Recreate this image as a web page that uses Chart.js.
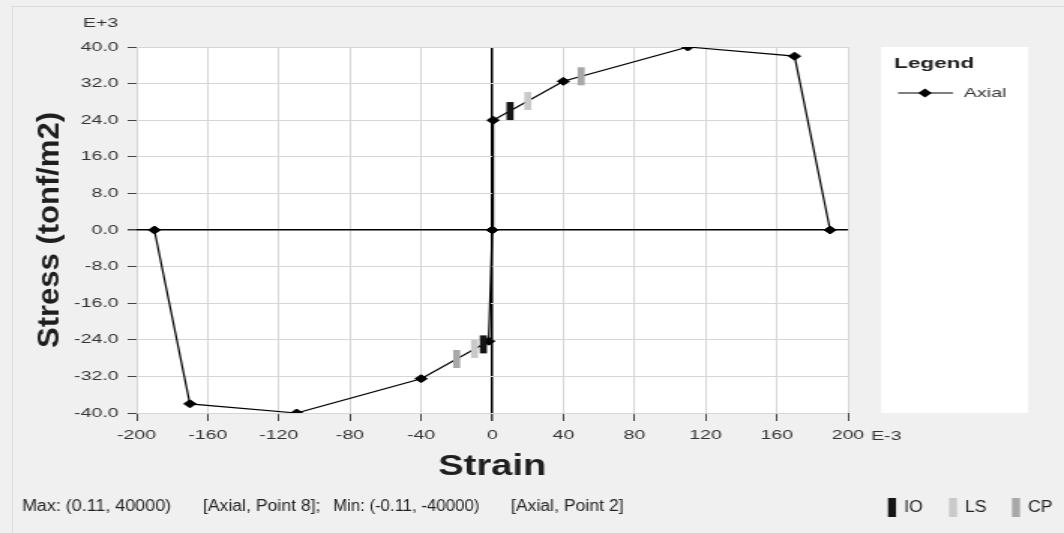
<!DOCTYPE html>
<html>
<head>
<meta charset="utf-8">
<script src="https://cdn.jsdelivr.net/npm/chart.js@4/dist/chart.umd.min.js"></script>
<style>
body { margin: 0; background: #f0f0f0; }
#wrap { position: relative; width: 1064px; height: 533px; overflow: hidden; }
#frame { position: absolute; left: 12px; top: 6px; right: -2px; bottom: -2px; border-left: 1px solid #dcdcdc; border-top: 1px solid #dcdcdc; }
#hinge-chart { position: absolute; left: 0; top: 0; }
</style>
</head>
<body>
<div id="wrap"><div id="frame"></div>
<!-- the source picture is stretched sideways, so the canvas is drawn narrow and widened -->
<canvas id="hinge-chart" width="709" height="533" style="width:1064px;height:533px"></canvas></div>
<script>
// strain in E-3, stress in E+3 (tonf/m2)
const axialStrain = [-190, -170, -110, -40, -2, 0, 0.5, 40, 110, 170, 190];
const axialStress = [0, -38, -40, -32.5, -24.3, 0, 24, 32.5, 40, 38, 0];

// acceptance criteria markers
const ioStrain = [-5, 10];
const ioStress = [-25, 26];
const lsStrain = [-10, 20];
const lsStress = [-26, 28.2];
const cpStrain = [-20, 50];
const cpStress = [-28.2, 33.6];

const FONT = "'Liberation Sans', Arial, sans-serif";
const SX = 1064 / 709;
const IO_COLOR = '#151515', LS_COLOR = '#c9c9c9', CP_COLOR = '#a8a8a8';

function R(x) { return x / SX; } // page x -> canvas x

function toPoints(xs, ys) {
    return xs.map((x, i) => ({x: x, y: ys[i]}));
}

function markerSet(label, xs, ys, color) {
    return {
        label: label,
        data: toPoints(xs, ys),
        pointStyle: 'line',
        pointRotation: 90,
        pointRadius: 9,
        pointHoverRadius: 9,
        pointBorderWidth: 4.7,
        borderColor: color,
        pointBorderColor: color,
        backgroundColor: color,
        order: 0
    };
}

// text drawn with its own sideways scale (eff = final width factor on the page)
function wideText(ctx, text, xPage, y, eff) {
    const k = eff / SX;
    ctx.save();
    ctx.scale(k, 1);
    ctx.fillText(text, R(xPage) / k, y);
    ctx.restore();
}

const decor = {
    id: 'decor',
    beforeDraw(chart) {
        const ctx = chart.ctx, a = chart.chartArea;
        ctx.save();
        ctx.fillStyle = '#fff';
        ctx.fillRect(a.left, a.top, a.right - a.left, a.bottom - a.top);
        ctx.fillRect(R(881), a.top, R(1028) - R(881), a.bottom - a.top);
        ctx.restore();
    },
    afterDraw(chart) {
        const ctx = chart.ctx, a = chart.chartArea;
        ctx.save();
        ctx.textBaseline = 'middle';
        ctx.textAlign = 'left';
        ctx.fillStyle = '#333';
        ctx.font = '13px ' + FONT;
        ctx.fillText('E+3', R(83), 23);
        ctx.fillText('E-3', R(871), 436);

        // axis titles
        ctx.fillStyle = '#1e1e1e';
        ctx.font = 'bold 31px ' + FONT;
        ctx.save();
        ctx.translate(R(50), (a.top + a.bottom) / 2);
        ctx.scale(1.0 / SX, 1);
        ctx.rotate(-Math.PI / 2);
        ctx.textAlign = 'center';
        ctx.fillText('Stress (tonf/m2)', 0, 0);
        ctx.restore();

        ctx.font = 'bold 30px ' + FONT;
        ctx.save();
        ctx.translate((a.left + a.right) / 2, 467);
        ctx.scale(1.27 / SX, 1);
        ctx.textAlign = 'center';
        ctx.fillText('Strain', 0, 0);
        ctx.restore();

        // legend
        ctx.fillStyle = '#222';
        ctx.font = 'bold 15px ' + FONT;
        ctx.fillText('Legend', R(894), 64);
        ctx.strokeStyle = '#000';
        ctx.lineWidth = 1.2;
        ctx.beginPath();
        ctx.moveTo(R(898), 93);
        ctx.lineTo(R(953), 93);
        ctx.stroke();
        ctx.fillStyle = '#000';
        const cx = R(925);
        ctx.beginPath();
        ctx.moveTo(cx, 88.5);
        ctx.lineTo(cx + 4.5, 93);
        ctx.lineTo(cx, 97.5);
        ctx.lineTo(cx - 4.5, 93);
        ctx.closePath();
        ctx.fill();
        ctx.fillStyle = '#333';
        ctx.font = '13px ' + FONT;
        ctx.fillText('Axial', R(964), 93);

        // footer
        ctx.fillStyle = '#222';
        ctx.font = '16px ' + FONT;
        wideText(ctx, 'Max: (0.11, 40000)', 22, 507, 1.12);
        wideText(ctx, '[Axial, Point 8];', 203, 507, 1.1);
        wideText(ctx, 'Min: (-0.11, -40000)', 333, 507, 1.05);
        wideText(ctx, '[Axial, Point 2]', 511, 507, 1.1);

        const keys = [['IO', IO_COLOR, 888], ['LS', LS_COLOR, 949], ['CP', CP_COLOR, 1012]];
        keys.forEach(k => {
            ctx.fillStyle = k[1];
            ctx.fillRect(R(k[2]), 498, R(8), 19);
            ctx.fillStyle = '#222';
            wideText(ctx, k[0], k[2] + 16, 508, 1.1);
        });
        ctx.restore();
    }
};

function gridColor(c) { return c.tick && c.tick.value === 0 ? '#000' : '#d6d6d6'; }
function gridWidth(c) { return c.tick && c.tick.value === 0 ? 1.5 : 1; }

const hingeElement = document.getElementById('hinge-chart').getContext('2d');

let hingeChart = new Chart(hingeElement, {
    type: 'scatter',
    data: {
        datasets: [
            markerSet('IO', ioStrain, ioStress, IO_COLOR),
            markerSet('LS', lsStrain, lsStress, LS_COLOR),
            markerSet('CP', cpStrain, cpStress, CP_COLOR),
            {
                label: 'Axial',
                data: toPoints(axialStrain, axialStress),
                showLine: true,
                borderColor: '#000',
                borderWidth: 1.2,
                pointStyle: 'rectRot',
                pointRadius: 4,
                pointHoverRadius: 4,
                pointBackgroundColor: '#000',
                pointBorderColor: '#000',
                pointBorderWidth: 1,
                order: 1
            }
        ]
    },
    options: {
        responsive: false,
        animation: false,
        layout: { padding: { left: 0, top: 47, right: 144, bottom: 80 } },
        plugins: { legend: { display: false }, tooltip: { enabled: false } },
        scales: {
            x: {
                type: 'linear',
                min: -200,
                max: 200,
                afterFit(s) { s.height = 40; },
                ticks: { stepSize: 40, padding: 7, color: '#333', font: { family: FONT, size: 13 } },
                grid: { color: gridColor, lineWidth: gridWidth, tickLength: 8, tickColor: '#444' },
                border: { display: false }
            },
            y: {
                type: 'linear',
                min: -40,
                max: 40,
                afterFit(s) { s.width = 91; },
                ticks: { stepSize: 8, padding: 6, color: '#333', font: { family: FONT, size: 13 },
                         callback: v => v.toFixed(1) },
                grid: { color: gridColor, lineWidth: gridWidth, tickLength: 6, tickColor: '#444' },
                border: { display: false }
            }
        }
    },
    plugins: [decor]
});
</script>
</body>
</html>
